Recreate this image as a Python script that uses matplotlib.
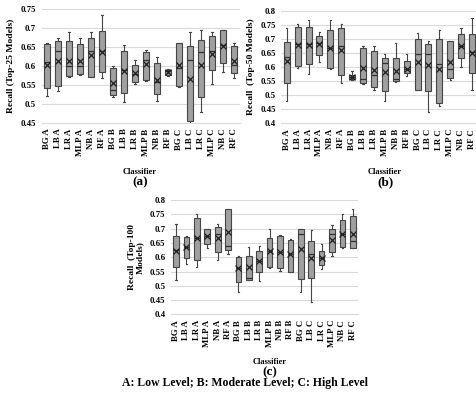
import matplotlib
matplotlib.use("Agg")
import matplotlib.pyplot as plt

classifiers = ["BG A", "LB A", "LR A", "MLP A", "NB A", "RF A",
               "BG B", "LB B", "LR B", "MLP B", "NB B", "RF B",
               "BG C", "LB C", "LR C", "MLP C", "NB C", "RF C"]

# each list: whisker low, Q1, median, Q3, whisker high, mean
top25_lo  = [0.520, 0.533, 0.570, 0.576, 0.570, 0.569, 0.518, 0.504, 0.553, 0.561, 0.509, 0.575, 0.545, 0.448, 0.478, 0.553, 0.583, 0.569]
top25_q1  = [0.543, 0.548, 0.573, 0.579, 0.570, 0.583, 0.523, 0.530, 0.557, 0.564, 0.526, 0.577, 0.548, 0.454, 0.518, 0.589, 0.608, 0.582]
top25_med = [0.610, 0.639, 0.601, 0.601, 0.639, 0.639, 0.538, 0.590, 0.580, 0.617, 0.557, 0.587, 0.594, 0.617, 0.636, 0.639, 0.655, 0.602]
top25_q3  = [0.659, 0.666, 0.667, 0.658, 0.675, 0.693, 0.595, 0.639, 0.604, 0.637, 0.608, 0.590, 0.660, 0.653, 0.668, 0.678, 0.694, 0.652]
top25_hi  = [0.660, 0.673, 0.690, 0.674, 0.690, 0.733, 0.600, 0.655, 0.617, 0.643, 0.624, 0.592, 0.660, 0.690, 0.696, 0.690, 0.694, 0.660]
top25_mean= [0.603, 0.612, 0.614, 0.614, 0.628, 0.637, 0.555, 0.586, 0.582, 0.605, 0.564, 0.584, 0.602, 0.567, 0.603, 0.632, 0.654, 0.612]

top50_lo  = [0.480, 0.596, 0.575, 0.619, 0.593, 0.544, 0.554, 0.540, 0.518, 0.480, 0.546, 0.568, 0.518, 0.441, 0.463, 0.554, 0.601, 0.518]
top50_q1  = [0.543, 0.604, 0.610, 0.641, 0.598, 0.570, 0.556, 0.542, 0.528, 0.516, 0.550, 0.578, 0.520, 0.515, 0.471, 0.562, 0.631, 0.578]
top50_med = [0.636, 0.680, 0.680, 0.684, 0.666, 0.676, 0.566, 0.557, 0.572, 0.615, 0.556, 0.593, 0.646, 0.646, 0.609, 0.592, 0.675, 0.654]
top50_q3  = [0.688, 0.743, 0.741, 0.710, 0.731, 0.738, 0.573, 0.669, 0.658, 0.633, 0.633, 0.620, 0.699, 0.680, 0.698, 0.693, 0.716, 0.716]
top50_hi  = [0.737, 0.753, 0.765, 0.723, 0.765, 0.753, 0.587, 0.675, 0.675, 0.646, 0.684, 0.646, 0.720, 0.693, 0.731, 0.693, 0.737, 0.773]
top50_mean= [0.621, 0.677, 0.677, 0.680, 0.666, 0.660, 0.565, 0.595, 0.590, 0.583, 0.587, 0.593, 0.619, 0.607, 0.592, 0.619, 0.675, 0.649]

top100_lo  = [0.522, 0.578, 0.567, 0.633, 0.592, 0.613, 0.479, 0.520, 0.518, 0.563, 0.552, 0.547, 0.479, 0.444, 0.559, 0.605, 0.631, 0.631]
top100_q1  = [0.567, 0.596, 0.590, 0.645, 0.619, 0.625, 0.512, 0.522, 0.549, 0.567, 0.561, 0.549, 0.524, 0.526, 0.573, 0.619, 0.634, 0.633]
top100_med = [0.625, 0.637, 0.666, 0.674, 0.680, 0.639, 0.561, 0.526, 0.587, 0.622, 0.617, 0.610, 0.680, 0.610, 0.598, 0.680, 0.680, 0.657]
top100_q3  = [0.675, 0.669, 0.736, 0.697, 0.704, 0.767, 0.600, 0.605, 0.623, 0.668, 0.674, 0.660, 0.699, 0.657, 0.623, 0.699, 0.730, 0.745]
top100_hi  = [0.715, 0.674, 0.750, 0.700, 0.715, 0.768, 0.605, 0.637, 0.640, 0.699, 0.678, 0.662, 0.700, 0.695, 0.645, 0.712, 0.750, 0.769]
top100_mean= [0.622, 0.637, 0.666, 0.674, 0.666, 0.687, 0.561, 0.567, 0.587, 0.622, 0.617, 0.610, 0.627, 0.598, 0.598, 0.660, 0.680, 0.680]

SERIF = ["Liberation Serif", "DejaVu Serif"]

def make_stats(lo, q1, med, q3, hi, mean):
    stats = []
    for i in range(len(lo)):
        stats.append(dict(whislo=lo[i], q1=q1[i], med=med[i], q3=q3[i],
                          whishi=hi[i], mean=mean[i], fliers=[], label=classifiers[i]))
    return stats

def draw(ax, stats, ylim, yticks, yticklabels, ylabel):
    ax.bxp(stats, positions=range(len(stats)), widths=0.55, patch_artist=True,
           showmeans=True, showfliers=False,
           boxprops=dict(facecolor="#a0a0a0", edgecolor="#454545", linewidth=0.8),
           medianprops=dict(color="#303030", linewidth=0.9),
           whiskerprops=dict(color="#454545", linewidth=0.8),
           capprops=dict(color="#454545", linewidth=0.8),
           capwidths=0.12,
           meanprops=dict(marker="x", markeredgecolor="#202020", markersize=5, markeredgewidth=0.9))
    ax.set_xlim(-0.5, len(stats) - 0.5)
    ax.set_ylim(*ylim)
    ax.set_yticks(yticks)
    ax.set_yticklabels(yticklabels, fontfamily=SERIF, fontweight="bold", fontsize=6.3)
    ax.set_xticks(range(len(stats)))
    ax.set_xticklabels(classifiers, rotation=90, fontfamily=SERIF, fontweight="bold", fontsize=6.3)
    ax.tick_params(length=0, pad=4)
    ax.yaxis.grid(True, color="#d9d9d9", linewidth=0.8)
    ax.set_axisbelow(True)
    for s in ["top", "right", "left"]:
        ax.spines[s].set_visible(False)
    ax.spines["bottom"].set_color("#d9d9d9")
    ax.set_ylabel(ylabel, fontfamily=SERIF, fontweight="bold", fontsize=6.8, linespacing=1.0)

fig = plt.figure(figsize=(4.76, 3.93), dpi=100)

ax1 = fig.add_axes([0.0872, 0.687, 0.416, 0.290])
draw(ax1, make_stats(top25_lo, top25_q1, top25_med, top25_q3, top25_hi, top25_mean),
     (0.45, 0.75), [0.45, 0.5, 0.55, 0.6, 0.65, 0.7, 0.75],
     ["0.45", "0.5", "0.55", "0.6", "0.65", "0.7", "0.75"], "Recall (Top-25 Models)")

ax2 = fig.add_axes([0.591, 0.686, 0.412, 0.287])
draw(ax2, make_stats(top50_lo, top50_q1, top50_med, top50_q3, top50_hi, top50_mean),
     (0.4, 0.8), [0.4, 0.45, 0.5, 0.55, 0.6, 0.65, 0.7, 0.75, 0.8],
     ["0.4", "0.45", "0.5", "0.55", "0.6", "0.65", "0.7", "0.75", "0.8"], "Recall  (Top-50 Models)")

ax3 = fig.add_axes([0.359, 0.200, 0.393, 0.291])
draw(ax3, make_stats(top100_lo, top100_q1, top100_med, top100_q3, top100_hi, top100_mean),
     (0.4, 0.8), [0.4, 0.45, 0.5, 0.55, 0.6, 0.65, 0.7, 0.75, 0.8],
     ["0.4", "0.45", "0.5", "0.55", "0.6", "0.65", "0.7", "0.75", "0.8"], "Recall  (Top-100\nModels)")

for x, y, lab in [(140, 172, "(a)"), (385, 172, "(b)"), (270, 362, "(c)")]:
    fig.text(x / 476, 1 - y / 393, "Classifier", ha="center", va="center",
             fontfamily=SERIF, fontweight="bold", fontsize=6)
    fig.text(x / 476, 1 - (y + 10) / 393, lab, ha="center", va="center",
             fontfamily=SERIF, fontweight="bold", fontsize=9.5)

fig.text(245 / 476, 1 - 383 / 393, "A: Low Level; B: Moderate Level; C: High Level",
         ha="center", va="center", fontfamily=SERIF, fontweight="bold", fontsize=8.5)

fig.savefig("out.png", dpi=100)
